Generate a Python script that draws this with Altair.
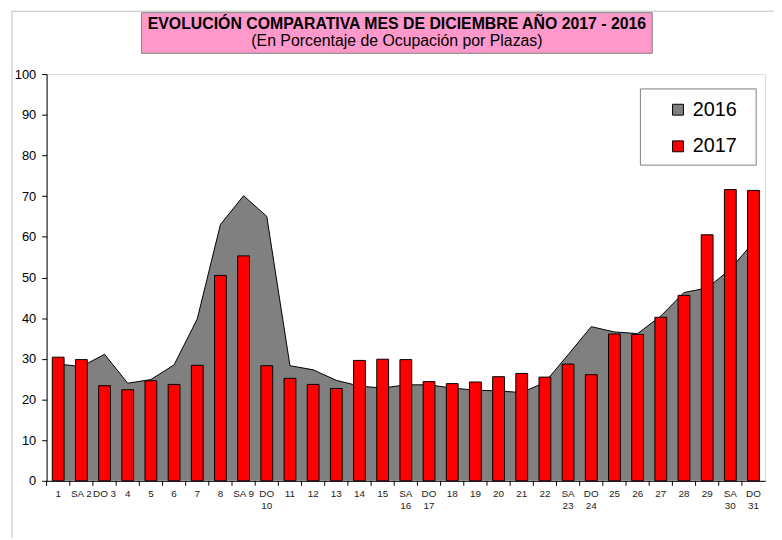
import altair as alt
import pandas as pd

# ---------------- data ----------------
day_labels = ["1", "SA 2", "DO 3", "4", "5", "6", "7", "8", "SA 9", "DO|10",
              "11", "12", "13", "14", "15", "SA|16", "DO|17", "18", "19", "20",
              "21", "22", "SA|23", "DO|24", "25", "26", "27", "28", "29",
              "SA|30", "DO|31"]
v2016 = [28.7, 28.1, 31.1, 24.0, 24.9, 28.5, 39.8, 63.0, 70.1, 65.0,
         28.3, 27.3, 24.7, 23.3, 22.8, 23.6, 23.6, 22.8, 22.3, 22.1,
         21.7, 24.2, 31.0, 37.9, 36.6, 36.2, 40.5, 46.3, 47.4, 52.0, 58.7]
v2017 = [30.4, 29.8, 23.4, 22.4, 24.6, 23.7, 28.4, 50.5, 55.3, 28.3,
         25.2, 23.7, 22.7, 29.6, 29.9, 29.8, 24.4, 23.9, 24.3, 25.6,
         26.4, 25.5, 28.7, 26.1, 36.1, 36.0, 40.2, 45.6, 60.5, 71.6, 71.4]
series = ["2016", "2017"]
series_colors = ["#808080", "#FF0000"]
y_ticks = list(range(0, 101, 10))
title_text = "EVOLUCIÓN COMPARATIVA MES DE DICIEMBRE AÑO 2017 - 2016"
subtitle_text = "(En Porcentaje de Ocupación por Plazas)"

rows = []
for i, lab in enumerate(day_labels):
    rows.append({"dia": lab, "serie": "2016", "valor": v2016[i]})
    rows.append({"dia": lab, "serie": "2017", "valor": v2017[i]})
df = pd.DataFrame(rows)

W, H = 726, 411
FONT = "Liberation Sans"
NARROW = "Liberation Sans Narrow, Arial Narrow, Liberation Sans"

x_scale = alt.Scale(domain=day_labels, paddingInner=0, paddingOuter=0)
y_scale = alt.Scale(domain=[0, 100], nice=False, zero=True)
fill_scale = alt.Scale(domain=series, range=series_colors)

x_axis = alt.Axis(title=None, ticks=False, domainColor="black", labelAngle=0,
                  labelFont=NARROW, labelFontSize=10, labelColor="#222222",
                  labelPadding=8, labelLineHeight=12, labelOverlap=False,
                  labelBound=False, labelFlush=False,
                  labelExpr="split(datum.value, '|')")
y_axis = alt.Axis(values=y_ticks, title=None, grid=False, domainColor="black",
                  tickColor="black", tickSize=5, labelPadding=6,
                  labelFont=FONT, labelFontSize=13, labelColor="black")

base = alt.Chart(df)

legend = alt.Legend(
    title=None, orient="none", legendX=628, legendY=26,
    symbolType="square", symbolSize=121, symbolStrokeColor="black",
    symbolStrokeWidth=1, symbolOpacity=1, labelFont=FONT, labelFontSize=20,
    labelColor="black", labelOffset=5, rowPadding=17, padding=0,
)

area = base.transform_filter(alt.datum.serie == "2016").mark_area(opacity=1).encode(
    x=alt.X("dia:N", scale=x_scale, bandPosition=0.5, axis=x_axis),
    y=alt.Y("valor:Q", scale=y_scale, axis=y_axis),
    fill=alt.Fill("serie:N", scale=fill_scale, legend=legend),
)

line = base.transform_filter(alt.datum.serie == "2016").mark_line(
    color="black", strokeWidth=1).encode(
    x=alt.X("dia:N", scale=x_scale, bandPosition=0.5, axis=x_axis),
    y=alt.Y("valor:Q", scale=y_scale, axis=y_axis),
)

bars = base.transform_filter(alt.datum.serie == "2017").mark_bar(
    width={"band": 0.51}, stroke="black", strokeWidth=1, opacity=1).encode(
    x=alt.X("dia:N", scale=x_scale, axis=x_axis),
    y=alt.Y("valor:Q", scale=y_scale, axis=y_axis),
    fill=alt.Fill("serie:N", scale=fill_scale, legend=legend),
)

ticks = base.transform_filter(alt.datum.serie == "2017").mark_rule(
    color="black", strokeWidth=1).encode(
    x=alt.X("dia:N", scale=x_scale, bandPosition=0, axis=x_axis),
    y=alt.value(H), y2=alt.value(H + 5),
)

one = pd.DataFrame({"k": [0]})

legend_box = alt.Chart(one).mark_rect(fill="white", stroke="#808080", strokeWidth=1).encode(
    x=alt.value(600), x2=alt.value(717), y=alt.value(15), y2=alt.value(92))

title_box = alt.Chart(one).mark_rect(fill="#FF99CC", stroke="#808080", strokeWidth=1).encode(
    x=alt.value(96), x2=alt.value(612), y=alt.value(-62), y2=alt.value(-21))

title1 = alt.Chart(one).mark_text(text=title_text, font=FONT, fontSize=16, fontWeight="bold",
                                  color="black", align="center", baseline="alphabetic").encode(
    x=alt.value(354), y=alt.value(-46))
title2 = alt.Chart(one).mark_text(text=subtitle_text, font=FONT, fontSize=16,
                                  color="black", align="center", baseline="alphabetic").encode(
    x=alt.value(354), y=alt.value(-28))

border_v = alt.Chart(one).mark_rule(color="#BFBFBF", strokeWidth=1).encode(
    x=alt.value(-35), y=alt.value(-63.5), y2=alt.value(470))
border_h = alt.Chart(one).mark_rule(color="#BFBFBF", strokeWidth=1).encode(
    x=alt.value(-35), x2=alt.value(735), y=alt.value(-63.5))

chart = alt.layer(
    area, line, bars, ticks, legend_box, title_box, title1, title2, border_v, border_h
).properties(
    width=W, height=H,
    autosize=alt.AutoSizeParams(type="none"),
    padding={"left": 39, "top": 64, "right": 9, "bottom": 55},
).configure_view(
    fill="#FFFFCC", stroke="#808080", strokeWidth=1
).configure(background="white")

chart.save("out.html", embed_options={"renderer": "svg", "actions": False})
